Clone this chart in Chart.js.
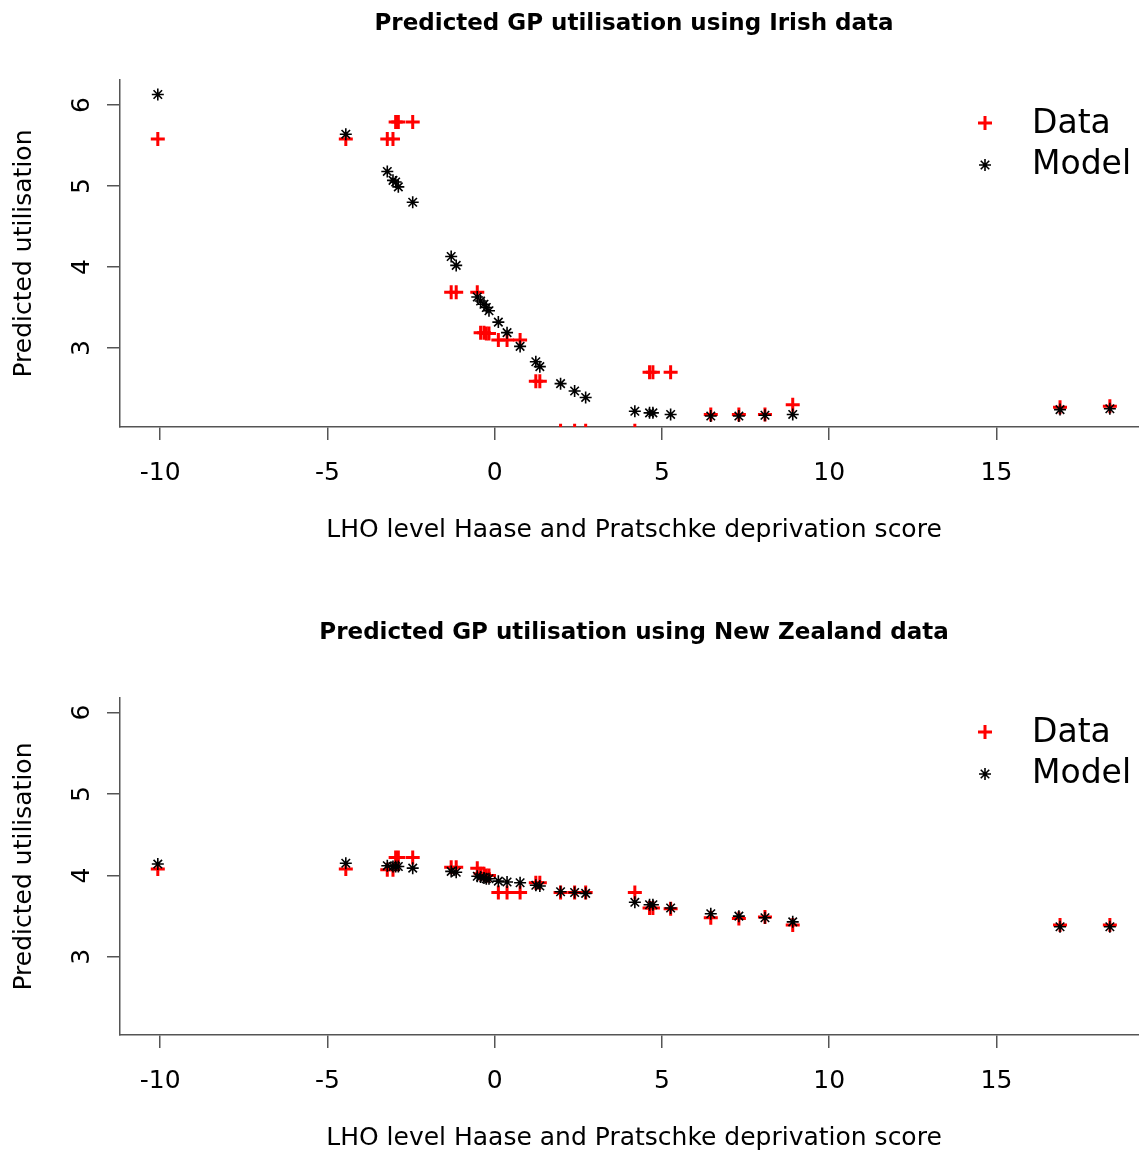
<!DOCTYPE html>
<html>
<head>
<meta charset="utf-8">
<title>Predicted GP utilisation</title>
<script src="https://cdn.jsdelivr.net/npm/chart.js@4/dist/chart.umd.min.js"></script>
<style>
  html, body { margin: 0; padding: 0; background: #fff; overflow: hidden; }
  body { width: 1139px; height: 1153px; position: relative; }
  canvas { position: absolute; left: 0; }
</style>
</head>
<body>
<canvas id="irishChart" width="1158" height="560" style="top:0"></canvas>
<canvas id="nzChart" width="1158" height="546" style="top:609px"></canvas>
<script>
// LHO level deprivation scores, shared by both panels
const lhoScores = [-10.07, -4.45, -3.21, -3.04, -2.96, -2.88, -2.45, -1.30, -1.15, -0.52,
  -0.42, -0.32, -0.25, -0.17, 0.11, 0.37, 0.76, 1.23, 1.35, 1.97,
  2.39, 2.72, 4.19, 4.63, 4.73, 5.26, 6.46, 7.30, 8.08, 8.91,
  16.90, 18.39];

// Irish panel
const irishData = [5.58, 5.58, 5.58, 5.58, 5.79, 5.79, 5.79, 3.69, 3.69, 3.69,
  3.19, 3.19, 3.18, 3.18, 3.10, 3.10, 3.10, 2.59, 2.59, 1.98,
  1.98, 1.98, 1.98, 2.70, 2.70, 2.70, 2.18, 2.18, 2.18, 2.30,
  2.27, 2.28];
const irishModel = [6.13, 5.64, 5.18, 5.07, 5.05, 4.99, 4.80, 4.13, 4.02, 3.63,
  3.58, 3.54, 3.50, 3.46, 3.32, 3.19, 3.02, 2.83, 2.77, 2.56,
  2.47, 2.39, 2.22, 2.20, 2.20, 2.18, 2.16, 2.16, 2.17, 2.18,
  2.24, 2.25];

// New Zealand panel
const nzData = [4.08, 4.08, 4.07, 4.07, 4.22, 4.22, 4.22, 4.10, 4.10, 4.09,
  4.02, 4.02, 4.00, 4.00, 3.79, 3.79, 3.79, 3.91, 3.91, 3.79,
  3.79, 3.79, 3.79, 3.60, 3.60, 3.59, 3.48, 3.47, 3.49, 3.39,
  3.39, 3.39];
const nzModel = [4.14, 4.15, 4.12, 4.11, 4.11, 4.11, 4.09, 4.05, 4.04, 3.99,
  3.98, 3.97, 3.96, 3.96, 3.93, 3.92, 3.91, 3.88, 3.87, 3.80,
  3.79, 3.78, 3.67, 3.64, 3.64, 3.60, 3.53, 3.50, 3.48, 3.43,
  3.37, 3.37];

const xTicks = [-10, -5, 0, 5, 10, 15];
const yTicks = [3, 4, 5, 6];
const legendLabels = ["Data", "Model"];

const FONT = "'DejaVu Sans', Verdana, sans-serif";
const AXIS_GREY = "#555";

// y tick labels run along the axis, like base R graphics
const yTickLabels = {
  id: "yTickLabels",
  afterDraw(chart) {
    const ctx = chart.ctx;
    const yScale = chart.scales.y;
    ctx.save();
    ctx.font = "25px " + FONT;
    ctx.fillStyle = "#000";
    ctx.textAlign = "center";
    ctx.textBaseline = "middle";
    yTicks.forEach((v) => {
      ctx.save();
      ctx.translate(82, yScale.getPixelForValue(v));
      ctx.rotate(-Math.PI / 2);
      ctx.fillText(String(v), 0, 0);
      ctx.restore();
    });
    ctx.restore();
  }
};

// legend in the top right corner, no box
const rLegend = {
  id: "rLegend",
  afterDraw(chart) {
    const ctx = chart.ctx;
    ctx.save();
    // Data: red plus
    ctx.strokeStyle = "#ff0000";
    ctx.lineWidth = 3;
    ctx.beginPath();
    ctx.moveTo(985, 116); ctx.lineTo(985, 130);
    ctx.moveTo(978, 123); ctx.lineTo(992, 123);
    ctx.stroke();
    // Model: black asterisk
    ctx.strokeStyle = "#000";
    ctx.lineWidth = 1.6;
    ctx.beginPath();
    for (let k = 0; k < 4; k++) {
      const a = k * Math.PI / 4;
      ctx.moveTo(985 - 6 * Math.cos(a), 165 - 6 * Math.sin(a));
      ctx.lineTo(985 + 6 * Math.cos(a), 165 + 6 * Math.sin(a));
    }
    ctx.stroke();
    ctx.font = "33px " + FONT;
    ctx.fillStyle = "#000";
    ctx.textAlign = "left";
    ctx.textBaseline = "middle";
    ctx.fillText(legendLabels[0], 1032, 124);
    ctx.fillText(legendLabels[1], 1032, 165);
    ctx.restore();
  }
};

function makeChart(id, titleText, dataVals, modelVals, yMin, yMax, titleGap, bottomPad) {
  const points = (vals) => lhoScores.map((x, i) => ({ x: x, y: vals[i] }));
  return new Chart(document.getElementById(id), {
    type: "scatter",
    data: {
      datasets: [
        {
          label: legendLabels[0],
          data: points(dataVals),
          pointStyle: "cross",
          pointRadius: 7,
          pointBorderWidth: 3,
          borderColor: "#ff0000",
          backgroundColor: "#ff0000",
          clip: 0,
          order: 1
        },
        {
          label: legendLabels[1],
          data: points(modelVals),
          pointStyle: "star",
          pointRadius: 6,
          pointBorderWidth: 1.6,
          borderColor: "#000",
          backgroundColor: "#000",
          clip: 0,
          order: 0
        }
      ]
    },
    options: {
      responsive: false,
      animation: false,
      events: [],
      layout: { padding: { left: 0, right: 2, top: 0, bottom: bottomPad } },
      plugins: {
        legend: { display: false },
        tooltip: { enabled: false },
        title: {
          display: true,
          text: titleText,
          fullSize: false,
          color: "#000",
          font: { family: FONT, size: 23, weight: "bold" },
          padding: { top: 10.2, bottom: titleGap }
        }
      },
      scales: {
        x: {
          type: "linear",
          min: -11.2,
          max: 19.53,
          afterBuildTicks: (s) => { s.ticks = xTicks.map((v) => ({ value: v })); },
          afterFit: (s) => { s.height = 119; },
          ticks: {
            color: "#000",
            font: { family: FONT, size: 25 },
            padding: 18,
            maxRotation: 0,
            autoSkip: false
          },
          grid: { drawOnChartArea: false, drawTicks: true, tickLength: 13, color: AXIS_GREY, lineWidth: 1.5 },
          border: { display: true, color: AXIS_GREY, width: 1.5 },
          title: {
            display: true,
            text: "LHO level Haase and Pratschke deprivation score",
            color: "#000",
            font: { family: FONT, size: 25 },
            padding: { top: 0, bottom: 1 }
          }
        },
        y: {
          type: "linear",
          min: yMin,
          max: yMax,
          afterBuildTicks: (s) => { s.ticks = yTicks.map((v) => ({ value: v })); },
          afterFit: (s) => { s.width = 120; },
          ticks: { display: false },
          grid: { drawOnChartArea: false, drawTicks: true, tickLength: 13, color: AXIS_GREY, lineWidth: 1.5 },
          border: { display: true, color: AXIS_GREY, width: 1.5 },
          title: {
            display: true,
            text: "Predicted utilisation",
            color: "#000",
            font: { family: FONT, size: 25 },
            padding: { top: 9.3, bottom: 0 }
          }
        }
      }
    },
    plugins: [yTickLabels, rLegend]
  });
}

makeChart("irishChart", "Predicted GP utilisation using Irish data",
  irishData, irishModel, 2.025, 6.309, 42.2, 14);
makeChart("nzChart", "Predicted GP utilisation using New Zealand data",
  nzData, nzModel, 2.04, 6.18, 51.2, 1);
</script>
</body>
</html>
